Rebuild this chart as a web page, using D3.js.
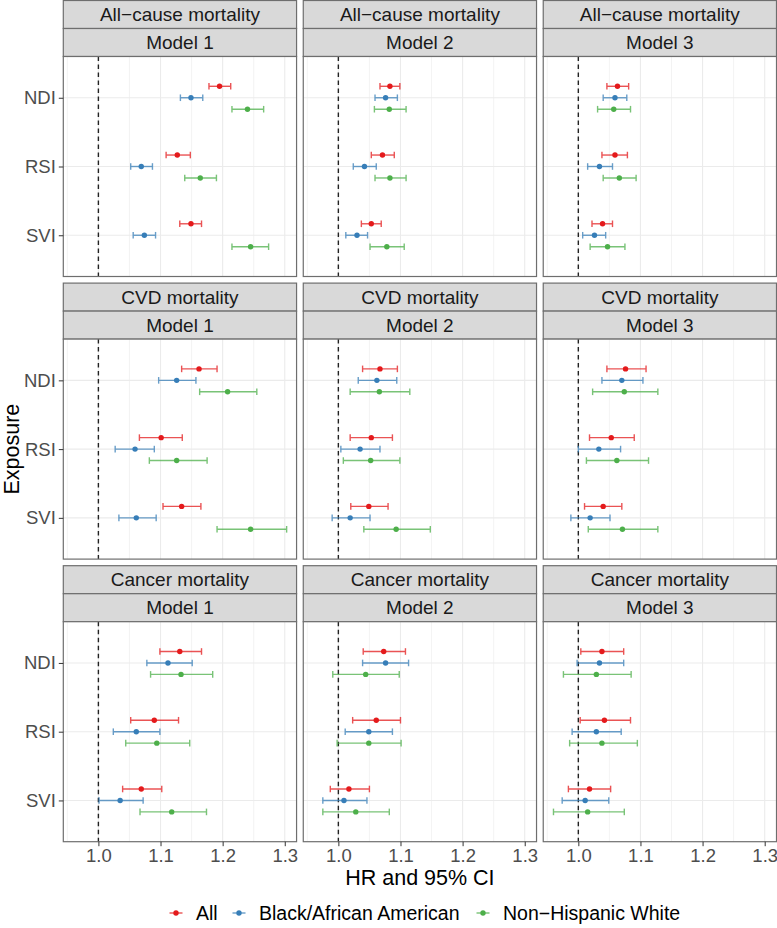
<!DOCTYPE html>
<html>
<head>
<meta charset="utf-8">
<script src="https://cdn.jsdelivr.net/npm/d3@7"></script>
<style>
  html, body { margin: 0; padding: 0; background: #fff; }
  svg { display: block; font-family: "Liberation Sans", Arial, sans-serif; }
</style>
</head>
<body>
<svg id="chart" width="777" height="928"></svg>
<script>
// ---------------- DATA ----------------
const outcomes = ["All\u2212cause mortality", "CVD mortality", "Cancer mortality"];
const models = ["Model 1", "Model 2", "Model 3"];
const exposures = ["NDI", "RSI", "SVI"];
const groups = ["All", "Black/African American", "Non\u2212Hispanic White"];
const groupColors = ["#E41A1C", "#377EB8", "#4DAF4A"];
const xTickValues = [1.0, 1.1, 1.2, 1.3];
const xMinorValues = [0.95, 1.05, 1.15, 1.25];

// Values ordered: outcome -> model -> exposure (NDI, RSI, SVI)
const hrAll = [
  1.195, 1.127, 1.149,  1.083, 1.071, 1.053,  1.063, 1.059, 1.039,
  1.162, 1.101, 1.134,  1.067, 1.053, 1.049,  1.076, 1.053, 1.040,
  1.131, 1.090, 1.069,  1.073, 1.061, 1.017,  1.038, 1.042, 1.018
];
const loAll = [
  1.178, 1.109, 1.131,  1.067, 1.053, 1.037,  1.046, 1.038, 1.022,
  1.134, 1.066, 1.104,  1.039, 1.019, 1.020,  1.046, 1.018, 1.010,
  1.099, 1.052, 1.039,  1.040, 1.023, 0.987,  1.004, 1.003, 0.984
];
const hiAll = [
  1.213, 1.148, 1.166,  1.099, 1.090, 1.069,  1.081, 1.079, 1.055,
  1.191, 1.135, 1.165,  1.095, 1.087, 1.080,  1.109, 1.090, 1.070,
  1.166, 1.129, 1.102,  1.108, 1.100, 1.050,  1.073, 1.084, 1.052
];

const hrBlack = [
  1.149, 1.069, 1.074,  1.076, 1.042, 1.030,  1.059, 1.034, 1.026,
  1.126, 1.059, 1.061,  1.062, 1.035, 1.019,  1.070, 1.033, 1.019,
  1.112, 1.061, 1.035,  1.076, 1.049, 1.009,  1.034, 1.029, 1.011
];
const loBlack = [
  1.132, 1.052, 1.056,  1.059, 1.024, 1.012,  1.040, 1.015, 1.007,
  1.097, 1.027, 1.033,  1.032, 1.004, 0.990,  1.038, 1.000, 0.988,
  1.078, 1.024, 1.001,  1.039, 1.011, 0.975,  0.998, 0.990, 0.974
];
const hiBlack = [
  1.168, 1.087, 1.092,  1.095, 1.061, 1.047,  1.078, 1.055, 1.044,
  1.157, 1.090, 1.093,  1.094, 1.067, 1.051,  1.104, 1.068, 1.051,
  1.151, 1.099, 1.072,  1.113, 1.087, 1.046,  1.073, 1.069, 1.049
];

const hrWhite = [
  1.240, 1.164, 1.245,  1.082, 1.083, 1.078,  1.057, 1.066, 1.047,
  1.208, 1.126, 1.245,  1.066, 1.052, 1.093,  1.074, 1.062, 1.071,
  1.133, 1.094, 1.118,  1.044, 1.049, 1.028,  1.029, 1.038, 1.015
];
const loWhite = [
  1.215, 1.139, 1.215,  1.058, 1.059, 1.051,  1.031, 1.040, 1.019,
  1.163, 1.082, 1.191,  1.019, 1.008, 1.041,  1.023, 1.013, 1.016,
  1.084, 1.044, 1.067,  0.991, 0.998, 0.975,  0.976, 0.986, 0.960
];
const hiWhite = [
  1.266, 1.190, 1.274,  1.109, 1.109, 1.106,  1.084, 1.093, 1.075,
  1.255, 1.175, 1.303,  1.115, 1.099, 1.148,  1.128, 1.113, 1.128,
  1.184, 1.147, 1.174,  1.098, 1.101, 1.082,  1.085, 1.095, 1.074
];

const seriesHR = [hrAll, hrBlack, hrWhite];
const seriesLo = [loAll, loBlack, loWhite];
const seriesHi = [hiAll, hiBlack, hiWhite];

// ---------------- LAYOUT ----------------
const svg = d3.select("#chart");
svg.append("rect").attr("width", 777).attr("height", 928).attr("fill", "#fff");

const plotLeft = 63.3, plotRight = 776.5, gap = 6.7;
const panelW = (plotRight - plotLeft - 2 * gap) / 3;
const topY = 0.5, stripH = 28, panelH = 220, rowPitch = 282.6;

const x = d3.scaleLinear().domain([0.9435, 1.319]).range([0, panelW]);
const y = d3.scalePoint().domain(exposures).range([0, panelH]).padding(0.6);
const dodge = y.step() * 0.1667;

const borderCol = "#6e6e6e";
const tickCol = "#333333";
const gridCol = "#ebebeb";

outcomes.forEach((outcome, i) => {
  models.forEach((model, j) => {
    const px = plotLeft + j * (panelW + gap);
    const stripTop = topY + i * rowPitch;
    const pTop = stripTop + 2 * stripH;

    // strips
    [outcome, model].forEach((lab, s) => {
      const sg = svg.append("g").attr("transform", `translate(${px},${stripTop + s * stripH})`);
      sg.append("rect").attr("width", panelW).attr("height", stripH)
        .attr("fill", "#d9d9d9").attr("stroke", borderCol).attr("stroke-width", 1.2);
      sg.append("text").attr("x", panelW / 2).attr("y", stripH / 2)
        .attr("text-anchor", "middle").attr("dominant-baseline", "central")
        .attr("font-size", 19).attr("fill", "#1a1a1a").text(lab);
    });

    const g = svg.append("g").attr("transform", `translate(${px},${pTop})`);
    g.append("rect").attr("width", panelW).attr("height", panelH).attr("fill", "#fff");

    // grid
    g.selectAll(".minor").data(xMinorValues).join("line")
      .attr("x1", d => x(d)).attr("x2", d => x(d)).attr("y1", 0).attr("y2", panelH)
      .attr("stroke", gridCol).attr("stroke-width", 0.6);
    g.selectAll(".major").data(xTickValues).join("line")
      .attr("x1", d => x(d)).attr("x2", d => x(d)).attr("y1", 0).attr("y2", panelH)
      .attr("stroke", gridCol).attr("stroke-width", 1.1);
    g.selectAll(".hmajor").data(exposures).join("line")
      .attr("x1", 0).attr("x2", panelW).attr("y1", d => y(d)).attr("y2", d => y(d))
      .attr("stroke", gridCol).attr("stroke-width", 1.1);

    // reference line
    g.append("line").attr("x1", x(1)).attr("x2", x(1)).attr("y1", 0).attr("y2", panelH)
      .attr("stroke", "#222").attr("stroke-width", 1.4).attr("stroke-dasharray", "4.5,3.5");

    // data
    groups.forEach((grp, gi) => {
      const col = groupColors[gi];
      const off = (gi - 1) * dodge;
      const rows = exposures.map((e, k) => {
        const idx = i * 9 + j * 3 + k;
        return { e, hr: seriesHR[gi][idx], lo: seriesLo[gi][idx], hi: seriesHi[gi][idx] };
      });
      const eg = g.append("g");
      rows.forEach(r => {
        const yy = y(r.e) + off;
        const bar = eg.append("g").attr("opacity", 0.75).attr("stroke", col).attr("stroke-width", 1.4);
        bar.append("line").attr("x1", x(r.lo)).attr("x2", x(r.hi)).attr("y1", yy).attr("y2", yy);
        bar.append("line").attr("x1", x(r.lo)).attr("x2", x(r.lo)).attr("y1", yy - 3.3).attr("y2", yy + 3.3);
        bar.append("line").attr("x1", x(r.hi)).attr("x2", x(r.hi)).attr("y1", yy - 3.3).attr("y2", yy + 3.3);
        eg.append("circle").attr("cx", x(r.hr)).attr("cy", yy).attr("r", 2.7).attr("fill", col);
      });
    });

    g.append("rect").attr("width", panelW).attr("height", panelH)
      .attr("fill", "none").attr("stroke", borderCol).attr("stroke-width", 1.2);

    // axes
    if (j === 0) {
      const ya = g.append("g").call(d3.axisLeft(y).tickSize(4.5).tickPadding(3));
      ya.select(".domain").remove();
      ya.selectAll(".tick line").attr("stroke", tickCol).attr("stroke-width", 1);
      ya.selectAll(".tick text").attr("font-size", 18.5).attr("fill", "#4d4d4d")
        .attr("font-family", "Liberation Sans, Arial, sans-serif");
    }
    if (i === outcomes.length - 1) {
      const xa = g.append("g").attr("transform", `translate(0,${panelH})`)
        .call(d3.axisBottom(x).tickValues(xTickValues).tickFormat(d3.format(".1f")).tickSize(4.5).tickPadding(3));
      xa.select(".domain").remove();
      xa.selectAll(".tick line").attr("stroke", tickCol).attr("stroke-width", 1);
      xa.selectAll(".tick text").attr("font-size", 18.5).attr("fill", "#4d4d4d")
        .attr("font-family", "Liberation Sans, Arial, sans-serif");
    }
  });
});

// axis titles
const panelsBottom = topY + 2 * rowPitch + 2 * stripH + panelH;
svg.append("text").attr("x", (plotLeft + plotRight) / 2).attr("y", 885)
  .attr("text-anchor", "middle").attr("font-size", 21.5).attr("fill", "#000").text("HR and 95% CI");
svg.append("text").attr("transform", `translate(19,${(topY + 2 * stripH + panelsBottom) / 2}) rotate(-90)`)
  .attr("text-anchor", "middle").attr("font-size", 21.5).attr("fill", "#000").text("Exposure");

// legend
const legendY = 913;
const legendItems = [
  { x: 176, tx: 196 },
  { x: 239, tx: 259 },
  { x: 483, tx: 503 }
];
groups.forEach((grp, gi) => {
  const lg = svg.append("g");
  const col = groupColors[gi];
  const lx = legendItems[gi].x;
  lg.append("line").attr("x1", lx - 6.5).attr("x2", lx + 6.5).attr("y1", legendY).attr("y2", legendY)
    .attr("stroke", col).attr("stroke-width", 1.4).attr("opacity", 0.75);
  lg.append("circle").attr("cx", lx).attr("cy", legendY).attr("r", 2.7).attr("fill", col);
  lg.append("text").attr("x", legendItems[gi].tx).attr("y", legendY).attr("dominant-baseline", "central")
    .attr("font-size", 19.5).attr("fill", "#000").text(grp);
});
</script>
</body>
</html>
